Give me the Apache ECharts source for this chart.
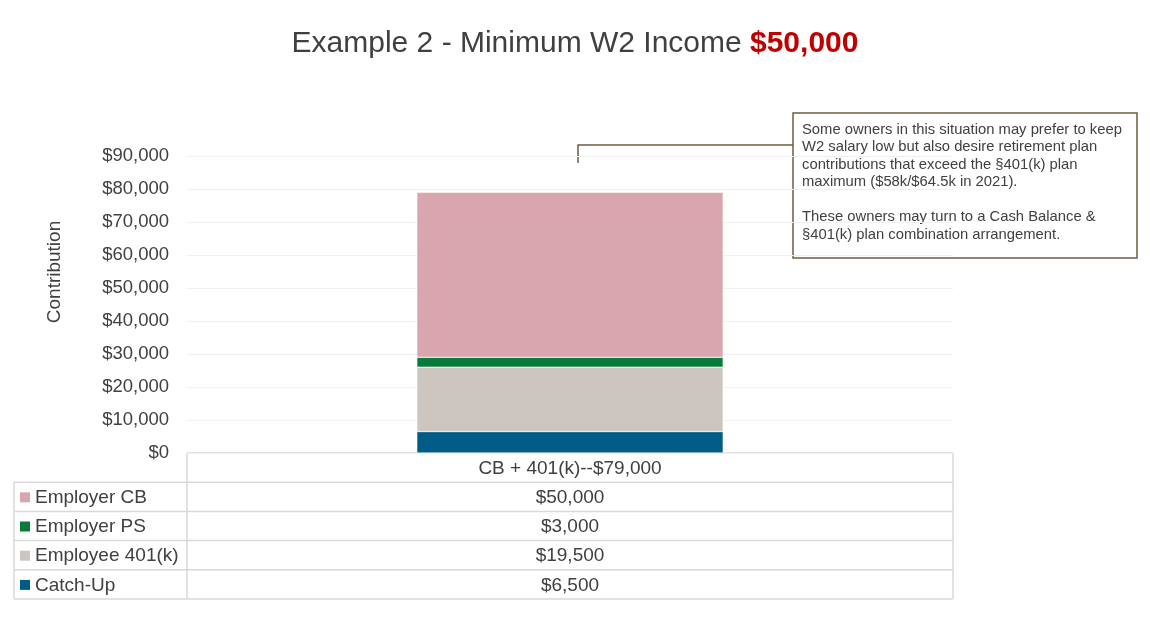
<!DOCTYPE html>
<html>
<head>
<meta charset="utf-8">
<script src="https://cdn.jsdelivr.net/npm/echarts@6/dist/echarts.min.js"></script>
<style>html,body{margin:0;padding:0;background:#fff;}#c{width:1150px;height:630px;}</style>
</head>
<body>
<div id="c"></div>
<script>
const categories = ['CB + 401(k)--$79,000'];
const seriesNames = ['Catch-Up', 'Employee 401(k)', 'Employer PS', 'Employer CB'];
const catchUp = [6500];
const employee401k = [19500];
const employerPS = [3000];
const employerCB = [50000];
const seriesColors = ['#005B87', '#CDC6C0', '#087A3A', '#D9A6AF'];
const yTicks = { min: 0, max: 90000, interval: 10000 };
const titleMain = 'Example 2 - Minimum W2 Income ';
const titleAmount = '$50,000';
const yAxisName = 'Contribution';
const noteText = 'Some owners in this situation may prefer to keep\nW2 salary low but also desire retirement plan\ncontributions that exceed the §401(k) plan\nmaximum ($58k/$64.5k in 2021).\n\nThese owners may turn to a Cash Balance &\n§401(k) plan combination arrangement.';

const seriesData = [catchUp, employee401k, employerPS, employerCB];
const FONT = '"Liberation Sans", Arial, sans-serif';
const TXT = '#404040';
const GL = 187, GR = 953, GT = 156, GB = 453;
const tableLeft = 14, rowH = 29.2;
const BORDER = '#D9D9D9';
const TFS = 19;

function fmt(v) { return '$' + v.toLocaleString('en-US'); }

const chart = echarts.init(document.getElementById('c'));

const graphics = [];
const headerBottom = GB + rowH;
const tableBottom = GB + rowH * 5;
function hline(x1, x2, y) { graphics.push({ type: 'line', shape: { x1, y1: y, x2, y2: y }, style: { stroke: BORDER, lineWidth: 1.5 }, silent: true }); }
function vline(x, y1, y2) { graphics.push({ type: 'line', shape: { x1: x, y1, x2: x, y2 }, style: { stroke: BORDER, lineWidth: 1.5 }, silent: true }); }
hline(GL, GR, GB);
for (let i = 1; i <= 5; i++) hline(tableLeft, GR, GB + rowH * i);
vline(GL, GB, tableBottom);
vline(GR, GB, tableBottom);
vline(tableLeft, headerBottom, tableBottom);
categories.forEach((c) => {
  graphics.push({ type: 'text', x: (GL + GR) / 2, y: GB + rowH / 2 + 1, style: { text: c, font: TFS + 'px ' + FONT, fill: TXT, textAlign: 'center', textVerticalAlign: 'middle' }, silent: true });
});
for (let r = 0; r < 4; r++) {
  const si = 3 - r;
  const yc = headerBottom + rowH * r + rowH / 2 + 1;
  graphics.push({ type: 'rect', shape: { x: 20, y: yc - 5.5, width: 10, height: 10 }, style: { fill: seriesColors[si] }, silent: true });
  graphics.push({ type: 'text', x: 35, y: yc, style: { text: seriesNames[si], font: TFS + 'px ' + FONT, fill: TXT, textAlign: 'left', textVerticalAlign: 'middle' }, silent: true });
  graphics.push({ type: 'text', x: (GL + GR) / 2, y: yc, style: { text: fmt(seriesData[si][0]), font: TFS + 'px ' + FONT, fill: TXT, textAlign: 'center', textVerticalAlign: 'middle' }, silent: true });
}
// y-axis name
graphics.push({ type: 'text', x: 55, y: 272, rotation: Math.PI / 2, style: { text: yAxisName, font: '19px ' + FONT, fill: TXT, textAlign: 'center', textVerticalAlign: 'middle' }, silent: true });
// callout
const BROWN = '#6E5E44';
graphics.push({ type: 'polyline', shape: { points: [[578, 163], [578, 145], [793, 145]] }, style: { stroke: BROWN, lineWidth: 1.5, fill: null }, silent: true });
graphics.push({ type: 'rect', shape: { x: 793, y: 113, width: 344, height: 145 }, style: { fill: '#fff', stroke: BROWN, lineWidth: 1.5 }, silent: true });
graphics.push({ type: 'text', x: 802, y: 121, style: { text: noteText, font: '14.8px ' + FONT, fill: TXT, lineHeight: 17.5, textAlign: 'left', textVerticalAlign: 'top' }, silent: true });

chart.setOption({
  animation: false,
  title: {
    text: '{a|' + titleMain + '}{b|' + titleAmount + '}',
    left: 'center', top: 24,
    textStyle: {
      fontWeight: 'normal',
      rich: {
        a: { fontFamily: FONT, fontSize: 30, fontWeight: 'normal', color: TXT },
        b: { fontFamily: FONT, fontSize: 30, fontWeight: 'bold', color: '#C00000' }
      }
    }
  },
  grid: { left: GL, right: 1150 - GR, top: GT, bottom: 630 - GB, containLabel: false },
  xAxis: {
    type: 'category', data: categories,
    axisLine: { show: false }, axisTick: { show: false }, axisLabel: { show: false }
  },
  yAxis: {
    type: 'value', min: yTicks.min, max: yTicks.max, interval: yTicks.interval,
    axisLine: { show: false }, axisTick: { show: false },
    axisLabel: { fontFamily: FONT, fontSize: 18.5, color: TXT, margin: 18, formatter: (v) => fmt(v) },
    splitLine: { lineStyle: { color: '#F0F0F0', width: 1 } }
  },
  series: seriesNames.map((n, i) => ({
    name: n, type: 'bar', stack: 'total', data: seriesData[i],
    barWidth: '40%',
    itemStyle: { color: seriesColors[i], borderColor: '#fff', borderWidth: 0.5 }
  })),
  graphic: graphics
});
</script>
</body>
</html>
